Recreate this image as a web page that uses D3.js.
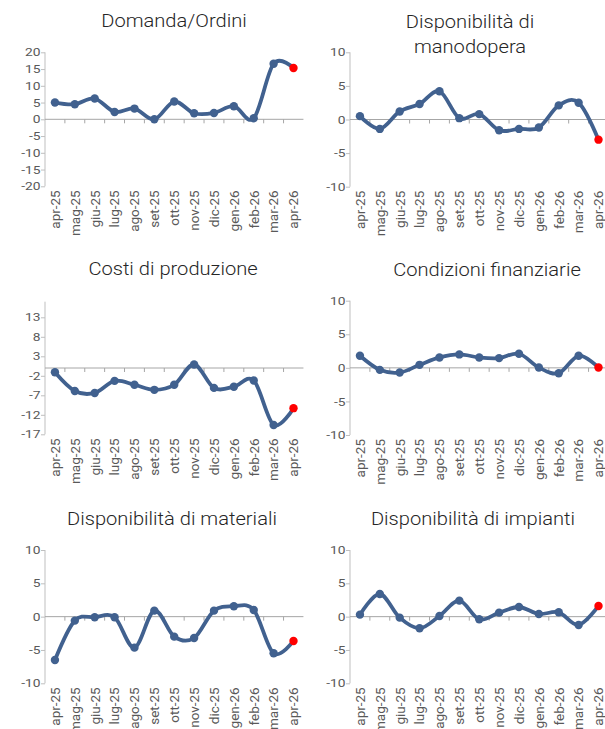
<!DOCTYPE html>
<html>
<head>
<meta charset="utf-8">
<script src="https://cdn.jsdelivr.net/npm/d3@7"></script>
<style>
  body { margin: 0; background: #fff; }
  text { font-family: Roboto, "Noto Sans", sans-serif; }
</style>
</head>
<body>
<svg id="chart" width="605" height="729"></svg>
<script>
// categories
var months = ["apr-25","mag-25","giu-25","lug-25","ago-25","set-25","ott-25","nov-25","dic-25","gen-26","feb-26","mar-26","apr-26"];

// series
var domandaOrdini = [5.0, 4.5, 6.2, 2.2, 3.2, 0.0, 5.3, 1.8, 1.9, 3.9, 0.3, 16.6, 15.3];
var manodopera    = [0.5, -1.4, 1.2, 2.3, 4.2, 0.2, 0.8, -1.6, -1.4, -1.2, 2.1, 2.5, -3.0];
var costi         = [-1.1, -5.9, -6.4, -3.3, -4.3, -5.6, -4.3, 0.9, -5.1, -4.8, -3.2, -14.6, -10.3];
var finanziarie   = [1.8, -0.3, -0.7, 0.45, 1.55, 2.0, 1.55, 1.45, 2.1, 0.05, -0.8, 1.8, 0.05];
var materiali     = [-6.5, -0.6, -0.1, -0.1, -4.65, 0.9, -3.0, -3.2, 0.9, 1.55, 1.0, -5.5, -3.65];
var impianti      = [0.3, 3.4, -0.15, -1.75, 0.1, 2.4, -0.4, 0.6, 1.45, 0.4, 0.65, -1.25, 1.6];

// y tick labels
var ticks20 = [-20, -15, -10, -5, 0, 5, 10, 15, 20];
var ticks17 = [-17, -12, -7, -2, 3, 8, 13];
var ticks10 = [-10, -5, 0, 5, 10];

var panels = [
  {title: ["Domanda/Ordini"], values: domandaOrdini, domain: [-20, 20], ticks: ticks20,
   left: 45, top: 52.3, bottom: 186.3, titleX: 174, titleY: 27},
  {title: ["Disponibilità di", "manodopera"], values: manodopera, domain: [-10, 10], ticks: ticks10,
   left: 350, top: 52.3, bottom: 186.7, titleX: 470, titleY: 28},
  {title: ["Costi di produzione"], values: costi, domain: [-17, 17], ticks: ticks17,
   left: 45, top: 301.7, bottom: 434.3, titleX: 173, titleY: 274.5},
  {title: ["Condizioni finanziarie"], values: finanziarie, domain: [-10, 10], ticks: ticks10,
   left: 350, top: 300.7, bottom: 435, titleX: 487, titleY: 275.5},
  {title: ["Disponibilità di materiali"], values: materiali, domain: [-10, 10], ticks: ticks10,
   left: 45, top: 550, bottom: 683.3, titleX: 172, titleY: 525},
  {title: ["Disponibilità di impianti"], values: impianti, domain: [-10, 10], ticks: ticks10,
   left: 350, top: 550, bottom: 683.3, titleX: 473, titleY: 525}
];

var bandW = 19.88;
var lineColor = "#41618f";
var svg = d3.select("#chart");

panels.forEach(function(p) {
  var g = svg.append("g");
  var x = d3.scaleBand().domain(months).range([p.left, p.left + bandW * months.length]);
  var y = d3.scaleLinear().domain(p.domain).range([p.bottom, p.top]);

  // title
  p.title.forEach(function(t, i) {
    g.append("text")
      .attr("transform", "translate(" + p.titleX + "," + (p.titleY + i * 24.5) + ") scale(1.15,1)")
      .attr("text-anchor", "middle")
      .attr("font-size", "17.5px")
      .attr("font-weight", 300)
      .attr("fill", "#262626")
      .text(t);
  });

  // y axis
  var yAxis = d3.axisLeft(y).tickValues(p.ticks).tickSize(4).tickFormat(d3.format("d"));
  var ya = g.append("g").attr("transform", "translate(" + p.left + ",0)").call(yAxis);
  ya.select(".domain").attr("stroke", "#bfbfbf").attr("d", "M0," + y(p.domain[1]) + "V" + y(p.domain[0]));
  ya.selectAll(".tick line").attr("stroke", "#bfbfbf");
  ya.selectAll(".tick text").remove();
  p.ticks.forEach(function(v) {
    g.append("text")
      .attr("transform", "translate(" + (p.left - 4.5) + "," + y(v) + ") scale(1.2,1)")
      .attr("text-anchor", "end")
      .attr("dy", "0.36em")
      .attr("font-size", "11.5px")
      .attr("fill", "#595959")
      .text(v);
  });

  // category axis at zero
  var y0 = y(0);
  g.append("line")
    .attr("x1", p.left).attr("x2", x.range()[1])
    .attr("y1", y0).attr("y2", y0)
    .attr("stroke", "#a6a6a6").attr("stroke-width", 1);
  months.forEach(function(m, i) {
    if (i === 0) return;
    g.append("line")
      .attr("x1", x(m)).attr("x2", x(m))
      .attr("y1", y0).attr("y2", y0 + 4)
      .attr("stroke", "#a6a6a6");
  });
  months.forEach(function(m) {
    g.append("text")
      .attr("transform", "translate(" + (x(m) + x.bandwidth() / 2) + "," + (p.bottom + 4) + ") rotate(-90)")
      .attr("text-anchor", "end")
      .attr("dy", "0.36em")
      .attr("font-size", "13.5px")
      .attr("fill", "#595959")
      .text(m);
  });

  // smoothed line
  var line = d3.line()
    .x(function(d, i) { return x(months[i]) + x.bandwidth() / 2; })
    .y(function(d) { return y(d); })
    .curve(d3.curveCardinal.tension(0));
  g.append("path").datum(p.values)
    .attr("d", line)
    .attr("fill", "none")
    .attr("stroke", lineColor)
    .attr("stroke-width", 3.8)
    .attr("stroke-linejoin", "round");

  var last = p.values.length - 1;
  g.selectAll("circle").data(p.values).enter().append("circle")
    .attr("cx", function(d, i) { return x(months[i]) + x.bandwidth() / 2; })
    .attr("cy", function(d) { return y(d); })
    .attr("r", 4.2)
    .attr("fill", function(d, i) { return i === last ? "#ff0000" : lineColor; });
});
</script>
</body>
</html>
